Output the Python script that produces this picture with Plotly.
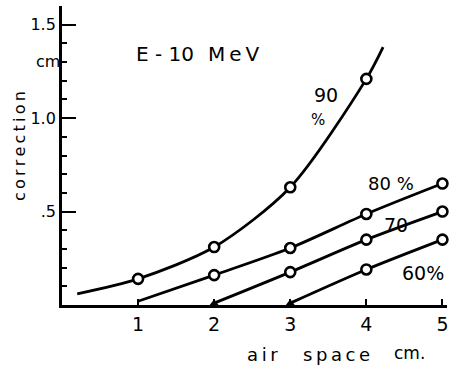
import plotly.graph_objects as go

# ---- data ----
x90 = [0.2, 1, 2, 3, 4, 4.22]
y90 = [0.06, 0.14, 0.31, 0.63, 1.21, 1.38]
mx90 = [1, 2, 3, 4]
my90 = [0.14, 0.31, 0.63, 1.21]

x80 = [1, 2, 3, 4, 5]
y80 = [0.02, 0.16, 0.305, 0.487, 0.65]
mx80 = [2, 3, 4, 5]
my80 = [0.16, 0.305, 0.487, 0.65]

x70 = [2, 3, 4, 5]
y70 = [0.01, 0.176, 0.35, 0.50]
mx70 = [3, 4, 5]
my70 = [0.176, 0.35, 0.50]

x60 = [3, 4, 5]
y60 = [0.01, 0.19, 0.35]
mx60 = [4, 5]
my60 = [0.19, 0.35]

xticks = [1, 2, 3, 4, 5]
xticklabels = ["1", "2", "3", "4", "5"]
yticks = [0.5, 1.0, 1.5]
yticklabels = [".5", "1.0", "1.5"]

FONT = "DejaVu Sans"
W, H = 455, 368
ML, MR, MT, MB = 62, 8, 6, 63
XMAX = 5.06
TS = "\u2009"  # thin space for letter spacing
fig = go.Figure()

for xs, ys, mx, my in [(x90, y90, mx90, my90), (x80, y80, mx80, my80),
                       (x70, y70, mx70, my70), (x60, y60, mx60, my60)]:
    fig.add_trace(go.Scatter(x=xs, y=ys, mode="lines",
                             line=dict(color="black", width=2.8, shape="spline", smoothing=0.8),
                             hoverinfo="skip", showlegend=False, cliponaxis=False))
    fig.add_trace(go.Scatter(x=mx, y=my, mode="markers",
                             marker=dict(symbol="circle", size=10, color="white",
                                         line=dict(color="black", width=2.6)),
                             hoverinfo="skip", showlegend=False, cliponaxis=False))

# filled start markers
fig.add_trace(go.Scatter(x=[x70[0], x60[0]], y=[y70[0], y60[0]], mode="markers",
                         marker=dict(symbol="triangle-up", size=8, color="black"),
                         hoverinfo="skip", showlegend=False, cliponaxis=False))

fig.update_layout(
    width=W, height=H,
    margin=dict(l=ML, r=MR, t=MT, b=MB),
    paper_bgcolor="white", plot_bgcolor="white",
    font=dict(family=FONT, color="black", size=16),
    xaxis=dict(range=[0, XMAX], tickvals=xticks, ticktext=xticklabels,
               ticks="inside", ticklen=6, tickwidth=1.5, tickcolor="black",
               showline=True, linecolor="black", linewidth=2.8,
               showgrid=False, zeroline=False, tickfont=dict(size=19, color="black"),
               fixedrange=True),
    yaxis=dict(range=[0, 1.6], tickvals=yticks, ticktext=yticklabels,
               ticks="inside", ticklen=14, tickwidth=2, tickcolor="black",
               showline=True, linecolor="black", linewidth=2.8,
               showgrid=False, zeroline=False, tickfont=dict(size=16, color="black"),
               minor=dict(dtick=0.1, ticks="inside", ticklen=5, tickwidth=2, tickcolor="black"),
               fixedrange=True),
)

PW = W - ML - MR
PH = H - MT - MB


def spaced(s):
    return TS.join(s)


ann = [
    dict(x=19, y=146, text=spaced("correction"), textangle=-90, font=dict(size=16)),
    dict(x=48, y=62, text="cm", font=dict(size=16)),
    dict(x=165, y=54, text="E - 10", font=dict(size=20)),
    dict(x=234, y=54, text=spaced("MeV"), font=dict(size=20)),
    dict(x=326, y=95, text="90", font=dict(size=19)),
    dict(x=318, y=120, text="%", font=dict(size=15)),
    dict(x=391, y=183, text="80 %", font=dict(size=18)),
    dict(x=396, y=225, text="70", font=dict(size=19)),
    dict(x=423, y=273, text="60%", font=dict(size=19)),
    dict(x=262, y=355, text=spaced("air"), font=dict(size=18)),
    dict(x=336, y=355, text=spaced("space"), font=dict(size=18)),
    dict(x=409, y=353, text="cm.", font=dict(size=17)),
]
for a in ann:
    px, py = a.pop("x"), a.pop("y")
    fig.add_annotation(x=(px - ML) / PW, y=(H - MB - py) / PH, xref="paper", yref="paper",
                       xanchor="center", yanchor="middle", showarrow=False, **a)

fig.write_html("out.html", config={"displayModeBar": False},
               post_script="document.body.style.margin='0';document.body.style.overflow='hidden';")
